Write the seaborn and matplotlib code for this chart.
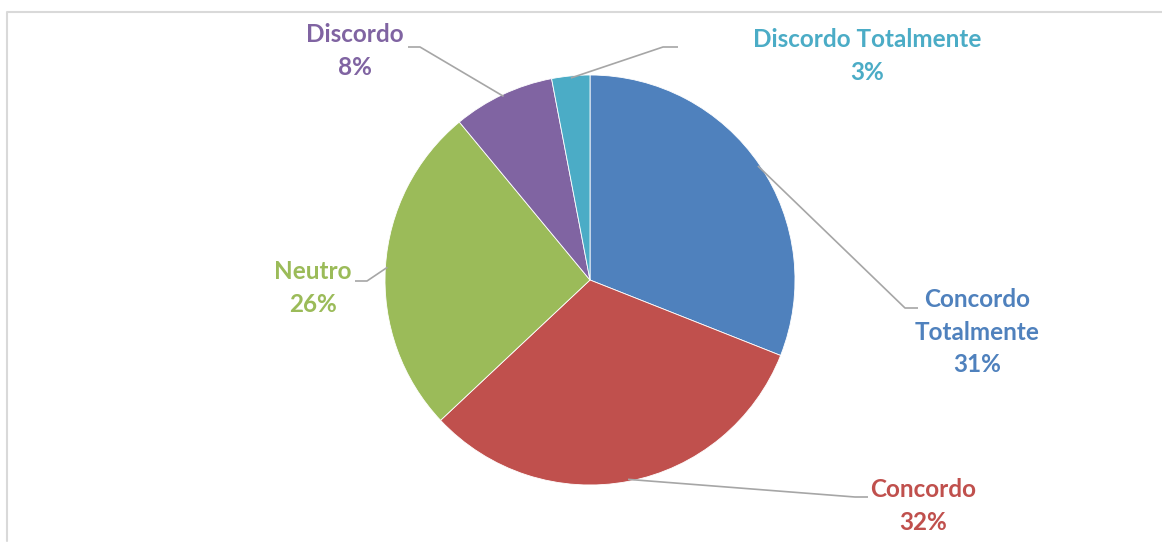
import numpy as np
import matplotlib.pyplot as plt
import seaborn as sns

labels = ["Concordo\nTotalmente", "Concordo", "Neutro", "Discordo", "Discordo Totalmente"]
values = [31, 32, 26, 8, 3]
colors = ["#4F81BD", "#C0504D", "#9BBB59", "#8064A2", "#4BACC6"]

sns.set_theme(style="white")
plt.rcParams["font.family"] = ["Lato", "DejaVu Sans"]

W, H = 1162, 542
fig = plt.figure(figsize=(W / 100, H / 100), dpi=100)
ax = fig.add_axes([0, 0, 1, 1])

# pie in pixel coordinates (y measured from the bottom)
cx, cy, r = 590, H - 280, 205
wedges, _ = ax.pie(values, colors=colors, startangle=90, counterclock=False,
                   center=(cx, cy), radius=r, frame=True,
                   wedgeprops=dict(linewidth=0.6, edgecolor="white"))
ax.set_xlim(0, W)
ax.set_ylim(0, H)
ax.set_aspect("equal")
ax.axis("off")

# label text centres and where the leader line meets the text
text_pos = [(977, 332), (923, 506), (313, 288), (355, 51), (867, 56)]
elbow = [((905, 308), (918, 308)),
         ((855, 497), (868, 497)),
         ((367, 281), (355, 281)),
         ((420, 47), (408, 47)),
         ((663, 47), (678, 47))]

for w, lab, v, col, (tx, ty), (e1, e2) in zip(wedges, labels, values, colors, text_pos, elbow):
    ang = np.deg2rad((w.theta1 + w.theta2) / 2)
    px = cx + 0.99 * r * np.cos(ang)
    py = cy + 0.99 * r * np.sin(ang)
    ax.plot([px, e1[0], e2[0]], [py, H - e1[1], H - e2[1]],
            color="#A6A6A6", lw=1.2, solid_capstyle="butt")
    ax.text(tx, H - ty, f"{lab}\n{v}%", color=col, fontsize=17.5,
            fontweight="bold", ha="center", va="center", linespacing=1.5)

# chart area border (only left and top are in view)
ax.plot([7, 7, W], [1, H - 12, H - 12], color="#D9D9D9", lw=1.5)

fig.savefig("out.png", dpi=100)
